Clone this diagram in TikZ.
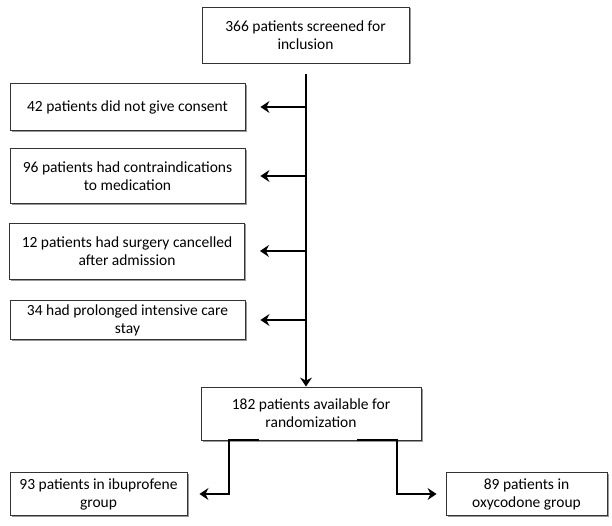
\documentclass[tikz,border=0pt]{standalone}
\usepackage{fontspec}
\setmainfont{Carlito}
\usetikzlibrary{arrows.meta,shadows}

\begin{document}
\begin{tikzpicture}[x=1pt,y=-1pt]
\tikzstyle{every node}+=[inner sep=0pt]
\tikzstyle{box}=[draw=black!80, fill=white, line width=0.9pt, align=center, font=\fontsize{15.5}{18}\selectfont, drop shadow={shadow xshift=1.5pt, shadow yshift=-1.5pt, opacity=0.4, fill=black}]
\tikzstyle{arr}=[line width=2pt, -{Stealth[length=9pt,width=12pt,inset=3pt]}]
\useasboundingbox (0,0) rectangle (612,526);
\node [box, minimum width=207pt, minimum height=56pt] (screen) at (305.5,35) {366 patients screened for\\inclusion};
\node [box, minimum width=235pt, minimum height=47pt] (consent) at (127.5,107) {42 patients did not give consent};
\node [box, minimum width=235pt, minimum height=55pt] (contra) at (127.5,176) {96 patients had contraindications\\to medication};
\node [box, minimum width=235pt, minimum height=56pt] (cancel) at (127,251) {12 patients had surgery cancelled\\after admission};
\node [box, minimum width=235pt, minimum height=39pt] (icu) at (127.5,320) {34 had prolonged intensive care\\stay};
\node [box, minimum width=220pt, minimum height=53pt] (rand) at (311,413.5) {182 patients available for\\randomization};
\node [box, minimum width=177pt, minimum height=43pt] (ibu) at (98.5,494) {93 patients in ibuprofene\\group};
\node [box, minimum width=161pt, minimum height=43pt] (oxy) at (526.5,494) {89 patients in\\oxycodone group};
\coordinate (trunk) at (306,74);
\draw [arr] (trunk) -- (trunk |- rand.north);
\draw [arr, shorten >=15pt] (trunk |- consent.east) -- (consent.east);
\draw [arr, shorten >=15pt] (trunk |- contra.east) -- (contra.east);
\draw [arr, shorten >=15pt] (trunk |- cancel.east) -- (cancel.east);
\draw [arr, shorten >=15pt] (trunk |- icu.east) -- (icu.east);
\draw [arr, shorten >=12pt] ([xshift=-52pt]rand.south) -- ([xshift=-82pt]rand.south) |- (ibu.east);
\draw [arr, shorten >=9pt] ([xshift=46pt]rand.south) -- ([xshift=86pt]rand.south) |- (oxy.west);
\end{tikzpicture}
\end{document}
